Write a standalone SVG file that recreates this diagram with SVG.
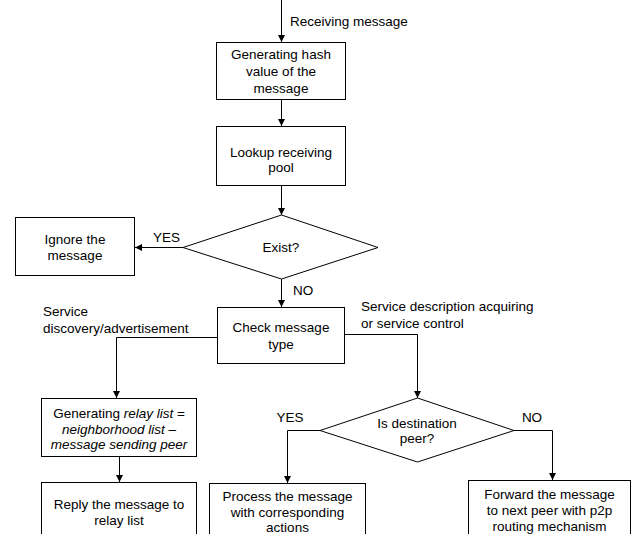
<svg xmlns="http://www.w3.org/2000/svg" width="635" height="534" viewBox="0 0 635 534">
  <style>
    .box { fill: #fff; stroke: #000; stroke-width: 1; }
    .line { fill: none; stroke: #000; stroke-width: 1; }
    text { font-family: "Liberation Sans", Arial, sans-serif; font-size: 13.5px; fill: #000; }
    .c { text-anchor: middle; }
    .i { font-style: italic; }
  </style>
  <defs>
    <marker id="arrow" markerWidth="7" markerHeight="7" refX="7" refY="3.5" orient="auto" markerUnits="userSpaceOnUse">
      <path d="M0,0 L7,3.5 L0,7 Z" fill="#000"/>
    </marker>
  </defs>

  <rect width="635" height="534" fill="#fff"/>

  <g id="connectors">
    <line class="line" x1="281.5" y1="0" x2="281.5" y2="42" marker-end="url(#arrow)"/>
    <text x="290" y="26">Receiving message</text>
    <line class="line" x1="281.5" y1="100" x2="281.5" y2="126" marker-end="url(#arrow)"/>
    <line class="line" x1="281.5" y1="186" x2="281.5" y2="215" marker-end="url(#arrow)"/>
    <line class="line" x1="183" y1="247.5" x2="135" y2="247.5" marker-end="url(#arrow)"/>
    <text x="153" y="242">YES</text>
    <line class="line" x1="281.5" y1="279" x2="281.5" y2="307" marker-end="url(#arrow)"/>
    <text x="293" y="295">NO</text>
    <polyline class="line" points="217,337.5 116.5,337.5 116.5,398" marker-end="url(#arrow)"/>
    <text x="43" y="316">Service</text>
    <text x="43" y="333">discovery/advertisement</text>
    <polyline class="line" points="345,334.5 417.5,334.5 417.5,398" marker-end="url(#arrow)"/>
    <text x="361" y="311">Service description acquiring</text>
    <text x="361" y="328">or service control</text>
    <line class="line" x1="119.5" y1="457" x2="119.5" y2="482" marker-end="url(#arrow)"/>
    <polyline class="line" points="320,430.5 287.5,430.5 287.5,483" marker-end="url(#arrow)"/>
    <text x="290" y="422" class="c">YES</text>
    <polyline class="line" points="514,430.5 552.5,430.5 552.5,480" marker-end="url(#arrow)"/>
    <text x="532" y="422" class="c">NO</text>
  </g>

  <g id="hash">
    <rect class="box" x="216.5" y="42.5" width="129" height="57"/>
    <text x="281" y="59" class="c">Generating hash</text>
    <text x="281" y="76" class="c">value of the</text>
    <text x="281" y="92.5" class="c">message</text>
  </g>

  <g id="lookup">
    <rect class="box" x="216.5" y="126.5" width="129" height="59"/>
    <text x="281" y="157" class="c">Lookup receiving</text>
    <text x="281" y="172" class="c">pool</text>
  </g>

  <g id="exist">
    <polygon class="box" points="281.5,215 378,247.5 281.5,279 183,247.5"/>
    <text x="281" y="252" class="c">Exist?</text>
  </g>

  <g id="ignore">
    <rect class="box" x="15.5" y="217.5" width="119" height="58"/>
    <text x="75" y="244" class="c">Ignore the</text>
    <text x="75" y="260" class="c">message</text>
  </g>

  <g id="check">
    <rect class="box" x="217.5" y="307.5" width="127" height="56"/>
    <text x="281" y="332" class="c">Check message</text>
    <text x="281" y="349" class="c">type</text>
  </g>

  <g id="relay">
    <rect class="box" x="41.5" y="398.5" width="155" height="58"/>
    <text x="119" y="418" class="c">Generating <tspan class="i">relay list</tspan> =</text>
    <text x="119" y="434" class="c i">neighborhood list –</text>
    <text x="119" y="449" class="c i">message sending peer</text>
  </g>

  <g id="reply">
    <rect class="box" x="41.5" y="482.5" width="155" height="60"/>
    <text x="119" y="509" class="c">Reply the message to</text>
    <text x="119" y="525" class="c">relay list</text>
  </g>

  <g id="destination">
    <polygon class="box" points="417.5,398 514,430.5 417.5,462 320,430.5"/>
    <text x="417" y="428" class="c">Is destination</text>
    <text x="417" y="443" class="c">peer?</text>
  </g>

  <g id="process">
    <rect class="box" x="209.5" y="483.5" width="156" height="60"/>
    <text x="287.5" y="501" class="c">Process the message</text>
    <text x="287.5" y="517" class="c">with corresponding</text>
    <text x="287.5" y="532" class="c">actions</text>
  </g>

  <g id="forward">
    <rect class="box" x="468.5" y="480.5" width="162" height="62"/>
    <text x="549.5" y="499" class="c">Forward the message</text>
    <text x="549.5" y="515" class="c">to next peer with p2p</text>
    <text x="549.5" y="531" class="c">routing mechanism</text>
  </g>
</svg>
